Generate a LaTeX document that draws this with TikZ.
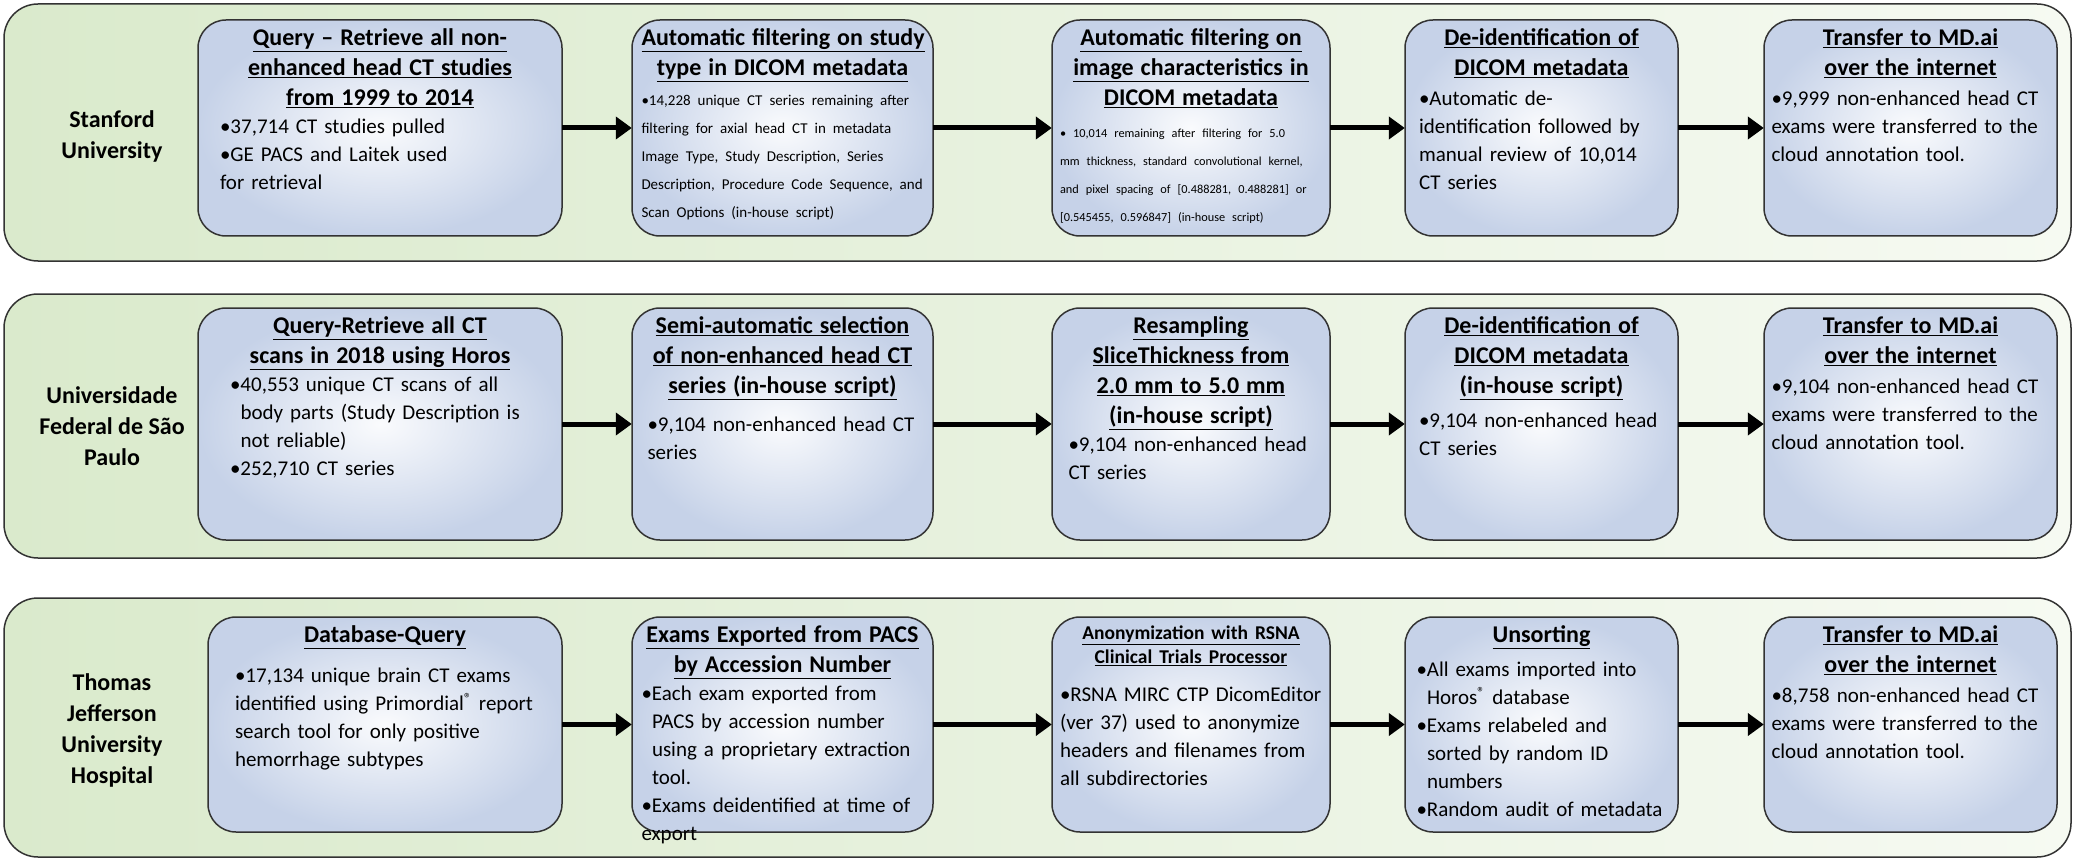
\documentclass[tikz,border=0pt]{standalone}
\usepackage{fontspec}
\setmainfont{Carlito}
\usetikzlibrary{arrows.meta}
\definecolor{bandL}{RGB}{218,234,204}
\definecolor{bandR}{RGB}{246,250,242}
\definecolor{boxO}{RGB}{198,210,232}
\definecolor{boxI}{RGB}{250,251,253}
\newcommand{\ttl}[1]{\underline{#1}}
\newcommand{\bl}[1]{\par\noindent\hangindent=0.5em\hangafter=1\textbullet#1}
\tikzset{
  band/.style={draw=black!80,line width=1.5pt,rounded corners=34pt,left color=bandL,right color=bandR},
  box/.style={draw=black!80,line width=1.5pt,rounded corners=28pt,inner color=boxI,outer color=boxO},
  txt/.style={anchor=north,inner sep=0pt,font=\fontsize{21}{28}\selectfont},
  lab/.style={font=\fontsize{24}{31}\selectfont\bfseries,align=center},
  arr/.style={line width=5pt,-{Triangle[length=16pt,width=22pt]}},
}
\newcommand{\tbox}[7]{% name, x1,x2,y1,y2, width, content
  \path[box] (#2,#4) rectangle (#3,#5);
  \node[minimum width=#3-#2,minimum height=#5-#4,inner sep=0pt] (#1) at ({(#2+#3)/2},{(#4+#5)/2}) {};
  \node[txt,text width=#6] (#1t) at ([yshift=-9pt]#1.north) {\lefthyphenmin=64\righthyphenmin=64\raggedright #7};
}
\begin{document}
\begin{tikzpicture}[x=1pt,y=-1pt]
\useasboundingbox (0,0) rectangle (2075,861);
\path[band] (4,4) rectangle (2071,261);
\path[band] (4,294) rectangle (2071,558);
\path[band] (4,598) rectangle (2071,857);
\node[lab] (l1) at (112,136) {Stanford\\University};
\node[lab] (l2) at (112,426) {Universidade\\Federal de São\\Paulo};
\node[lab] (l3) at (112,730) {Thomas\\Jefferson\\University\\Hospital};
\def\TT{\fontsize{24}{30}\selectfont\bfseries}
% row 1
\tbox{a1}{198}{562}{20}{236}{320pt}{{\centering\TT\ttl{Query -- Retrieve all non-}\\\ttl{enhanced head CT studies}\\\ttl{from 1999 to 2014}\par}\bl{37,714 CT studies pulled}\bl{GE PACS and Laitek used\\for retrieval}}
\tbox{a2}{632}{933}{20}{236}{282pt}{{\centering\TT\ttl{Automatic filtering on study}\\\ttl{type in DICOM metadata}\par}\fontsize{15}{21.5}\selectfont\vspace{2pt}\bl{14,228 unique CT series remaining after filtering for axial head CT in metadata Image Type, Study Description, Series Description, Procedure Code Sequence, and Scan Options (in-house script)}}
\tbox{a3}{1052}{1330}{20}{236}{262pt}{{\centering\TT\ttl{Automatic filtering on}\\\ttl{image characteristics in}\\\ttl{DICOM metadata}\par}\fontsize{12.3}{17.5}\selectfont\vspace{4pt}\bl{ 10,014 remaining after filtering for 5.0 mm thickness, standard convolutional kernel, and pixel spacing of [0.488281, 0.488281] or [0.545455, 0.596847] (in-house script)}}
\tbox{a4}{1405}{1678}{20}{236}{245pt}{{\centering\TT\ttl{De-identification of}\\\ttl{DICOM metadata}\par}\vspace{2pt}\bl{Automatic de-identification followed by manual review of 10,014 CT series}}
\tbox{a5}{1764}{2057}{20}{236}{278pt}{{\centering\TT\ttl{Transfer to MD.ai}\\\ttl{over the internet}\par}\vspace{2pt}\bl{9,999 non-enhanced head CT exams were transferred to the cloud annotation tool.}}
% row 2
\tbox{b1}{198}{562}{308}{540}{300pt}{{\centering\TT\ttl{Query-Retrieve all CT}\\\ttl{scans in 2018 using Horos}\par}\bl{40,553 unique CT scans of all body parts (Study Description is not reliable)}\bl{252,710 CT series}}
\tbox{b2}{632}{933}{308}{540}{270pt}{{\centering\TT\ttl{Semi-automatic selection}\\\ttl{of non-enhanced head CT}\\\ttl{series (in-house script)}\par}\vspace{10pt}\bl{9,104 non-enhanced head CT series}}
\tbox{b3}{1052}{1330}{308}{540}{245pt}{{\centering\TT\ttl{Resampling}\\\ttl{SliceThickness from}\\\ttl{2.0 mm to 5.0 mm}\\\ttl{(in-house script)}\par}\bl{9,104 non-enhanced head CT series}}
\tbox{b4}{1405}{1678}{308}{540}{245pt}{{\centering\TT\ttl{De-identification of}\\\ttl{DICOM metadata}\\\ttl{(in-house script)}\par}\vspace{6pt}\bl{9,104 non-enhanced head CT series}}
\tbox{b5}{1764}{2057}{308}{540}{278pt}{{\centering\TT\ttl{Transfer to MD.ai}\\\ttl{over the internet}\par}\vspace{2pt}\bl{9,104 non-enhanced head CT exams were transferred to the cloud annotation tool.}}
% row 3
\tbox{c1}{208}{562}{617}{832}{300pt}{{\centering\TT\ttl{Database-Query}\par}\vspace{12pt}\bl{17,134 unique brain CT exams identified using Primordial\textsuperscript{®} report search tool for only positive hemorrhage subtypes}}
\tbox{c2}{632}{933}{617}{832}{282pt}{{\centering\TT\ttl{Exams Exported from PACS}\\\ttl{by Accession Number}\par}\bl{Each exam exported from PACS by accession number using a proprietary extraction tool.}\bl{Exams deidentified at time of export}}
\tbox{c3}{1052}{1330}{617}{832}{262pt}{{\centering\fontsize{19.5}{24}\selectfont\bfseries\ttl{Anonymization with RSNA}\\\ttl{Clinical Trials Processor}\par}\vspace{10pt}\bl{RSNA MIRC CTP DicomEditor (ver 37) used to anonymize headers and filenames from all subdirectories}}
\tbox{c4}{1405}{1678}{617}{832}{250pt}{{\centering\TT\ttl{Unsorting}\par}\vspace{6pt}\bl{All exams imported into Horos\textsuperscript{®} database}\bl{Exams relabeled and sorted by random ID numbers}\bl{Random audit of metadata}}
\tbox{c5}{1764}{2057}{617}{832}{278pt}{{\centering\TT\ttl{Transfer to MD.ai}\\\ttl{over the internet}\par}\vspace{2pt}\bl{8,758 non-enhanced head CT exams were transferred to the cloud annotation tool.}}
% arrows
\foreach \r in {a,b,c}{
  \draw[arr] (\r1.east) -- (\r2.west);
  \draw[arr] (\r2.east) -- (\r3.west);
  \draw[arr] (\r3.east) -- (\r4.west);
  \draw[arr] (\r4.east) -- (\r5.west);
}
\end{tikzpicture}
\end{document}
